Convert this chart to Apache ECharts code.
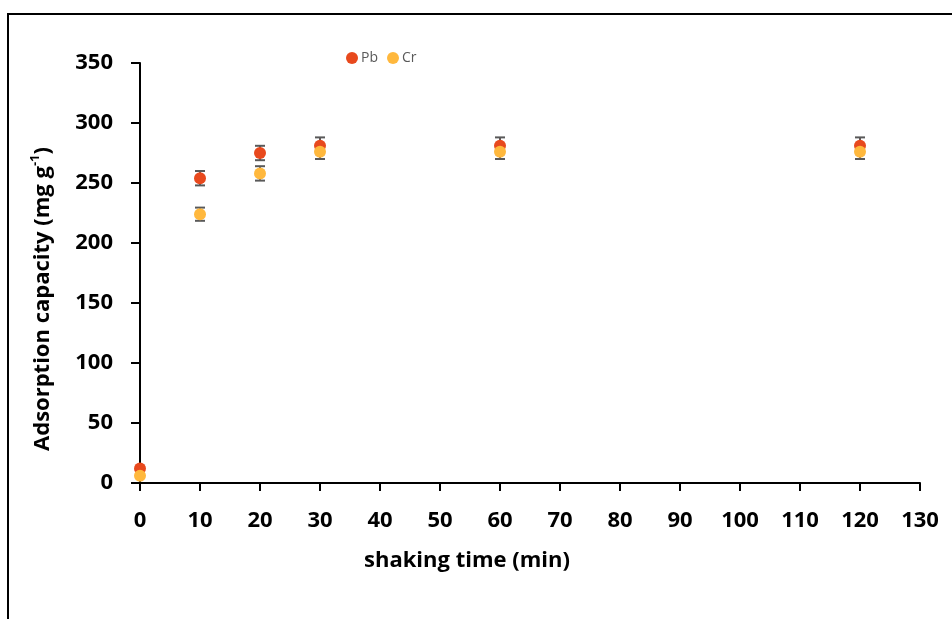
<!DOCTYPE html>
<html>
<head>
<meta charset="utf-8">
<script src="https://cdn.jsdelivr.net/npm/echarts@6/dist/echarts.min.js"></script>
<style>html,body{margin:0;padding:0;background:#fff;}#c{width:952px;height:619px;}</style>
</head>
<body>
<div id="c"></div>
<script>
const times = [0, 10, 20, 30, 60, 120];
const pbValues = [12, 254, 275, 281, 281, 281];
const pbErrors = [0, 6, 6, 7, 7, 7];
const crValues = [6, 224, 258, 276, 276, 276];
const crErrors = [0, 5.5, 6, 6, 6, 6];
const xTicks = [0,10,20,30,40,50,60,70,80,90,100,110,120,130];
const yTicks = [0,50,100,150,200,250,300,350];

const FONT = '"Open Sans", "DejaVu Sans", sans-serif';
const FS = 22;
const pbColor = '#E8491D';
const crColor = '#FFB83D';

function errData(vals, errs) {
  return times.map((t, i) => [t, vals[i] - errs[i], vals[i] + errs[i]]);
}
function errSeries(name, vals, errs) {
  return {
    type: 'custom',
    name: name + '_err',
    z: 1,
    silent: true,
    data: errData(vals, errs),
    renderItem: function (params, api) {
      const x = api.value(0);
      const lo = api.coord([x, api.value(1)]);
      const hi = api.coord([x, api.value(2)]);
      if (Math.abs(hi[1] - lo[1]) < 1) return null;
      const hw = 5;
      const style = { stroke: '#595959', lineWidth: 2 };
      return {
        type: 'group',
        children: [
          { type: 'line', shape: { x1: lo[0], y1: lo[1], x2: hi[0], y2: hi[1] }, style: style },
          { type: 'line', shape: { x1: lo[0] - hw, y1: lo[1], x2: lo[0] + hw, y2: lo[1] }, style: style },
          { type: 'line', shape: { x1: hi[0] - hw, y1: hi[1], x2: hi[0] + hw, y2: hi[1] }, style: style }
        ]
      };
    }
  };
}

const chart = echarts.init(document.getElementById('c'));
chart.setOption({
  animation: false,
  backgroundColor: '#fff',
  graphic: [{
    type: 'rect',
    shape: { x: 8, y: 14, width: 1000, height: 700 },
    style: { fill: 'none', stroke: '#000', lineWidth: 2 },
    silent: true, z: -10
  }],
  legend: {
    left: 341, top: 46,
    itemWidth: 12, itemHeight: 12, itemGap: 9,
    data: [{ name: 'Pb', icon: 'circle' }, { name: 'Cr', icon: 'circle' }],
    textStyle: { color: '#595959', fontSize: 14, fontFamily: FONT, padding: [0, 0, 0, -2] },
    itemStyle: { borderWidth: 0, opacity: 1 }
  },
  grid: { left: 140, right: 32, top: 63, bottom: 136, containLabel: false },
  xAxis: {
    type: 'value', min: 0, max: 130, interval: 10,
    name: 'shaking time (min)', nameLocation: 'middle', nameGap: 67,
    nameTextStyle: { fontSize: FS, fontWeight: 'bold', color: '#000', fontFamily: FONT, padding: [0, 126, 0, 0] },
    axisLine: { show: true, lineStyle: { color: '#000', width: 2 } },
    axisTick: { show: true, length: 8, lineStyle: { color: '#000', width: 2 } },
    axisLabel: { fontSize: FS, fontWeight: 'bold', color: '#000', fontFamily: FONT, margin: 27,
      formatter: v => xTicks.includes(v) ? String(v) : '' },
    splitLine: { show: false }
  },
  yAxis: {
    type: 'value', min: 0, max: 350, interval: 50,
    name: 'Adsorption capacity (mg g{sup|-1}{n|)}', nameLocation: 'middle', nameGap: 83,
    nameRotate: 90,
    nameTextStyle: { fontSize: FS, fontWeight: 'bold', color: '#000', fontFamily: FONT, lineHeight: 28,
      padding: [0, 52, 0, 0],
      rich: {
        sup: { fontSize: 13, fontWeight: 'bold', color: '#000', fontFamily: FONT, lineHeight: 13, verticalAlign: 'top' },
        n: { fontSize: FS, fontWeight: 'bold', color: '#000', fontFamily: FONT, lineHeight: 28 }
      } },
    axisLine: { show: true, lineStyle: { color: '#000', width: 2 } },
    axisTick: { show: true, length: 9, lineStyle: { color: '#000', width: 2 } },
    axisLabel: { fontSize: FS, fontWeight: 'bold', color: '#000', fontFamily: FONT, margin: 27,
      formatter: v => yTicks.includes(v) ? String(v) : '' },
    splitLine: { show: false }
  },
  series: [
    errSeries('Pb', pbValues, pbErrors),
    errSeries('Cr', crValues, crErrors),
    {
      name: 'Pb', type: 'scatter', symbol: 'circle', symbolSize: 12, z: 3,
      itemStyle: { color: pbColor, opacity: 1 },
      data: times.map((t, i) => [t, pbValues[i]])
    },
    {
      name: 'Cr', type: 'scatter', symbol: 'circle', symbolSize: 12, z: 4,
      itemStyle: { color: crColor, opacity: 1 },
      data: times.map((t, i) => [t, crValues[i]])
    }
  ]
});
</script>
</body>
</html>
